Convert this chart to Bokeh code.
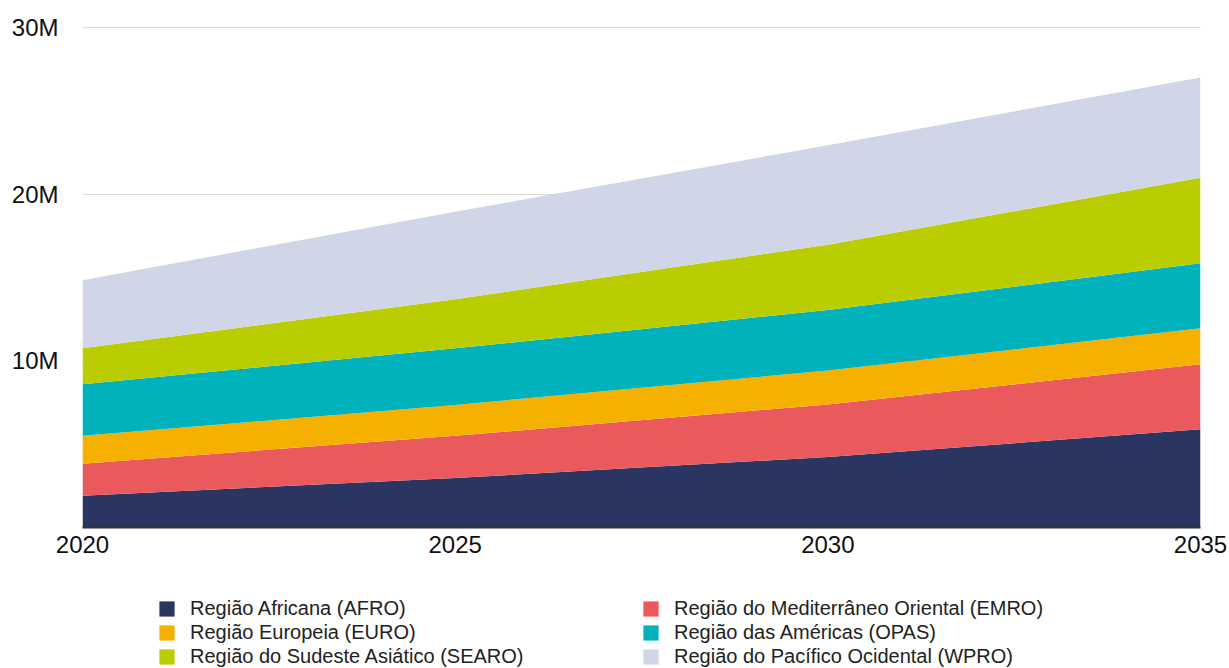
from bokeh.plotting import figure
from bokeh.layouts import column
from bokeh.models import ColumnDataSource, FixedTicker, Legend, LegendItem, Range1d
from bokeh.embed import file_html
from bokeh.resources import INLINE

# ---- data (millions) ----
years = [2020, 2025, 2030, 2035]
afro = [1.91, 2.97, 4.23, 5.89]
emro = [1.92, 2.53, 3.15, 3.91]
euro = [1.67, 1.85, 2.04, 2.16]
opas = [3.10, 3.40, 3.63, 3.89]
searo = [2.15, 2.95, 3.92, 5.13]
wpro = [4.09, 5.25, 5.96, 6.02]

series_keys = ["afro", "emro", "euro", "opas", "searo", "wpro"]
series_labels = [
    "Região Africana (AFRO)",
    "Região do Mediterrâneo Oriental (EMRO)",
    "Região Europeia (EURO)",
    "Região das Américas (OPAS)",
    "Região do Sudeste Asiático (SEARO)",
    "Região do Pacífico Ocidental (WPRO)",
]
series_colors = ["#2b3562", "#ea5a5c", "#f5b000", "#00b2bb", "#bacd00", "#d0d5e7"]

x_ticks = [2020, 2025, 2030, 2035]
y_ticks = [10, 20, 30]
y_tick_labels = {10: "10M", 20: "20M", 30: "30M"}

source = ColumnDataSource(dict(year=years, afro=afro, emro=emro, euro=euro,
                               opas=opas, searo=searo, wpro=wpro))

# ---- main chart ----
p = figure(width=1229, height=570, output_backend="svg", toolbar_location=None,
           x_range=Range1d(2020, 2035), y_range=Range1d(0, 30.3),
           min_border_left=82, min_border_right=29, min_border_top=22,
           min_border_bottom=43)
p.outline_line_color = None
p.background_fill_color = "white"
p.border_fill_color = "white"

p.varea_stack(stackers=series_keys, x="year", color=series_colors, source=source)

p.xaxis.ticker = FixedTicker(ticks=x_ticks)
p.xaxis.axis_line_color = "#333333"
p.xaxis.axis_line_width = 2
p.xaxis.major_tick_line_color = None
p.xaxis.major_tick_out = 0
p.xaxis.major_tick_in = 0
p.xaxis.minor_tick_line_color = None
p.xaxis.major_label_text_font = "Liberation Sans"
p.xaxis.major_label_text_font_size = "24px"
p.xaxis.major_label_text_color = "#111111"
p.xaxis.major_label_standoff = 8

p.yaxis.ticker = FixedTicker(ticks=y_ticks)
p.yaxis.major_label_overrides = y_tick_labels
p.yaxis.axis_line_color = None
p.yaxis.major_tick_line_color = None
p.yaxis.major_tick_out = 0
p.yaxis.major_tick_in = 0
p.yaxis.minor_tick_line_color = None
p.yaxis.major_label_text_font = "Liberation Sans"
p.yaxis.major_label_text_font_size = "24px"
p.yaxis.major_label_text_color = "#111111"
p.yaxis.major_label_standoff = 24

p.xgrid.grid_line_color = None
p.ygrid.ticker = FixedTicker(ticks=y_ticks)
p.ygrid.grid_line_color = "#d9d9d9"
p.ygrid.grid_line_width = 1

# ---- legend strip ----
q = figure(width=1229, height=98, output_backend="svg", toolbar_location=None,
           x_range=Range1d(2020, 2035), y_range=Range1d(100, 200),
           x_axis_location=None, y_axis_location=None,
           min_border_left=0, min_border_right=0, min_border_top=0,
           min_border_bottom=0)
q.outline_line_color = None
q.grid.grid_line_color = None
q.background_fill_color = "white"
q.border_fill_color = "white"
legend_renderers = q.varea_stack(stackers=series_keys, x="year",
                                 color=series_colors, source=source)

items = [LegendItem(label=lab, renderers=[r])
         for lab, r in zip(series_labels, legend_renderers)]
legend = Legend(items=items, orientation="horizontal", ncols=2,
                location=(75, 0), padding=0, margin=0, spacing=1,
                glyph_width=19, glyph_height=19, label_standoff=14,
                label_width=450, label_height=19,
                label_text_font="Liberation Sans",
                label_text_font_size="20px", label_text_color="#222222",
                border_line_color=None, background_fill_alpha=0)
q.add_layout(legend, "center")

layout = column(p, q, spacing=0)
open("out.html", "w").write(file_html(layout, INLINE))
